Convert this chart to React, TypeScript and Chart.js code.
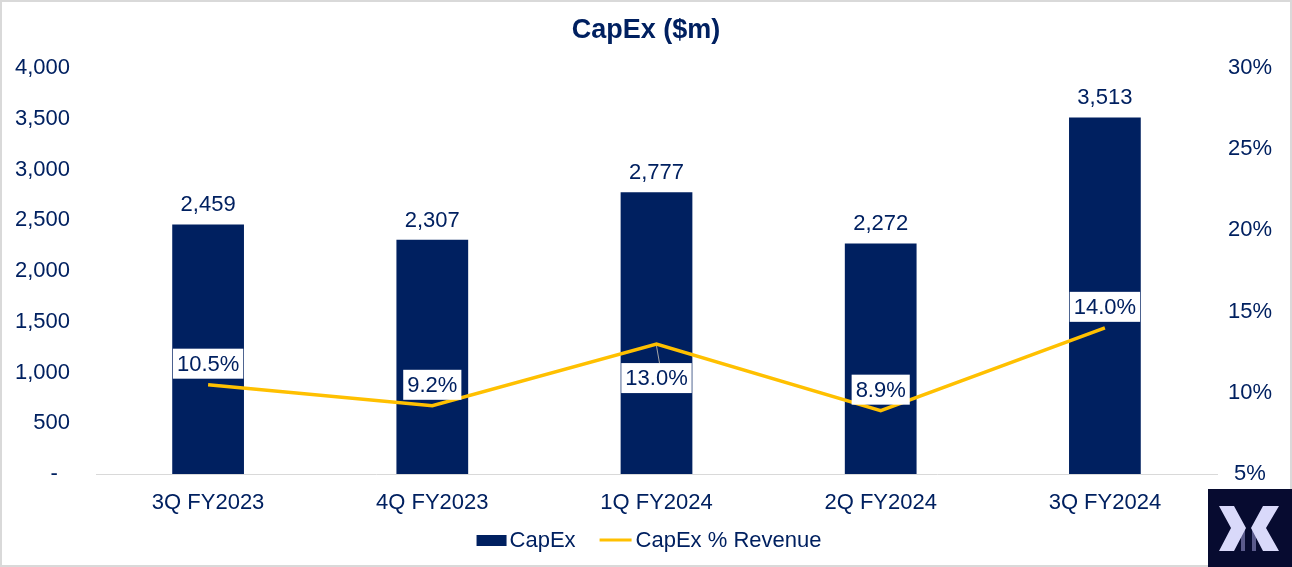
import React, { useEffect, useRef } from 'react'
import { Chart, registerables } from 'chart.js'

Chart.register(...registerables)

// values
const quarters = ['3Q FY2023', '4Q FY2023', '1Q FY2024', '2Q FY2024', '3Q FY2024']
const capex = [2459, 2307, 2777, 2272, 3513]
const capexPctRevenue = [10.5, 9.2, 13.0, 8.9, 14.0]
// which % labels sit under their point (the rest sit above)
const pctLabelBelow = [false, false, true, false, false]

const NAVY = '#002060'
const GOLD = '#FFC000'
const FONT = '"Liberation Sans", Arial, sans-serif'
const W = 1292
const H = 567

const labelsPlugin = {
  id: 'capexLabels',
  beforeDraw(chart: Chart) {
    const { ctx } = chart
    ctx.save()
    ctx.fillStyle = '#fff'
    ctx.fillRect(0, 0, W, H)
    ctx.strokeStyle = '#d9d9d9'
    ctx.lineWidth = 2
    ctx.strokeRect(1, 1, W - 2, H - 2)
    ctx.restore()
  },
  afterDatasetsDraw(chart: Chart) {
    const { ctx } = chart
    const bars = chart.getDatasetMeta(1).data
    const pts = chart.getDatasetMeta(0).data
    ctx.save()
    ctx.font = `22px ${FONT}`
    ctx.textAlign = 'center'
    ctx.textBaseline = 'middle'
    ctx.fillStyle = NAVY
    bars.forEach((b: any, i: number) => {
      ctx.fillText(capex[i].toLocaleString('en-US'), b.x, b.y - 19)
    })
    pts.forEach((p: any, i: number) => {
      const text = capexPctRevenue[i].toFixed(1) + '%'
      const below = pctLabelBelow[i]
      const cy = below ? p.y + 34 : p.y - 21
      const w = ctx.measureText(text).width + 8
      const h = 30
      if (below) {
        ctx.strokeStyle = '#a6a6a6'
        ctx.lineWidth = 1
        ctx.beginPath()
        ctx.moveTo(p.x, p.y + 2)
        ctx.lineTo(p.x + 3, cy - h / 2)
        ctx.stroke()
      }
      ctx.fillStyle = '#fff'
      ctx.fillRect(p.x - w / 2, cy - h / 2, w, h)
      ctx.fillStyle = NAVY
      ctx.fillText(text, p.x, cy + 1)
    })
    ctx.restore()
  },
  afterDraw(chart: Chart) {
    const { ctx } = chart
    ctx.save()
    // title
    ctx.fillStyle = NAVY
    ctx.textAlign = 'center'
    ctx.textBaseline = 'middle'
    ctx.font = `bold 27px ${FONT}`
    ctx.fillText('CapEx ($m)', W / 2, 31)
    // legend
    ctx.font = `22px ${FONT}`
    ctx.textAlign = 'left'
    const ly = 540
    const first = 'CapEx'
    const second = 'CapEx % Revenue'
    const total = 30 + 3 + ctx.measureText(first).width + 24 + 32 + 4 + ctx.measureText(second).width
    let x = W / 2 + 3 - total / 2
    ctx.fillRect(x, ly - 5, 30, 11)
    x += 33
    ctx.fillText(first, x, ly + 1)
    x += ctx.measureText(first).width + 24
    ctx.strokeStyle = GOLD
    ctx.lineWidth = 3
    ctx.beginPath()
    ctx.moveTo(x, ly)
    ctx.lineTo(x + 32, ly)
    ctx.stroke()
    x += 36
    ctx.fillText(second, x, ly + 1)
    ctx.restore()
  },
}

function Logo() {
  return (
    <div style={{ position: 'absolute', left: 1208, top: 489, width: 84, height: 78, background: '#070b30' }}>
      <svg width={84} height={78} viewBox="0 0 84 78">
        <rect x={33} y={40} width={4} height={22} fill="#5a5a8c" />
        <rect x={44} y={40} width={4} height={22} fill="#5a5a8c" />
        <polygon points="11,17 26,17 38,39 26,62 11,62 23,39" fill="#d9d9fa" />
        <polygon points="55,17 71,17 58,39 71,62 55,62 43,39" fill="#d9d9fa" />
      </svg>
    </div>
  )
}

export default function App() {
  const canvasRef = useRef<HTMLCanvasElement>(null)
  const chartRef = useRef<Chart | null>(null)

  useEffect(() => {
    if (chartRef.current) { chartRef.current.destroy(); chartRef.current = null }
    if (!canvasRef.current) return
    const ctx = canvasRef.current.getContext('2d')
    if (!ctx) return

    const tickFont = { family: FONT, size: 22 }

    chartRef.current = new Chart(ctx, {
      type: 'bar',
      data: {
        labels: quarters,
        datasets: [
          {
            type: 'line',
            label: 'CapEx % Revenue',
            data: capexPctRevenue,
            yAxisID: 'y1',
            borderColor: GOLD,
            backgroundColor: GOLD,
            borderWidth: 3.5,
            pointRadius: 0,
            tension: 0,
            order: 0,
          },
          {
            type: 'bar',
            label: 'CapEx',
            data: capex,
            yAxisID: 'y',
            backgroundColor: NAVY,
            barPercentage: 0.32,
            categoryPercentage: 1,
            order: 1,
          },
        ],
      },
      options: {
        responsive: false,
        animation: false,
        devicePixelRatio: 1,
        layout: { padding: { top: 68, left: 0, right: 0, bottom: 0 } },
        plugins: {
          legend: { display: false },
          title: { display: false },
          tooltip: { enabled: false },
        },
        scales: {
          x: {
            grid: { display: false, drawTicks: false },
            border: { display: true, color: '#d9d9d9', width: 1 },
            ticks: { color: NAVY, font: tickFont, padding: 16 },
            afterFit: (s: any) => { s.height = 93 },
          },
          y: {
            position: 'left',
            min: 0,
            max: 4000,
            grid: { display: false, drawTicks: false },
            border: { display: false },
            ticks: {
              stepSize: 500,
              color: NAVY,
              font: tickFont,
              padding: 26,
              callback: (v: any) => (v === 0 ? '-  ' : Number(v).toLocaleString('en-US')),
            },
            afterFit: (s: any) => { s.width = 96 },
          },
          y1: {
            position: 'right',
            min: 5,
            max: 30,
            grid: { display: false, drawTicks: false },
            border: { display: false },
            ticks: {
              stepSize: 5,
              color: NAVY,
              font: tickFont,
              padding: 11,
              crossAlign: 'center',
              callback: (v: any) => `${v}%`,
            },
            afterFit: (s: any) => { s.width = 75 },
          },
        },
      },
      plugins: [labelsPlugin],
    } as any)

    return () => { if (chartRef.current) chartRef.current.destroy() }
  }, [])

  return (
    <div style={{ position: 'absolute', left: 0, top: 0, width: W, height: H, background: '#fff' }}>
      <canvas ref={canvasRef} width={W} height={H} style={{ display: 'block' }} />
      <Logo />
    </div>
  )
}
